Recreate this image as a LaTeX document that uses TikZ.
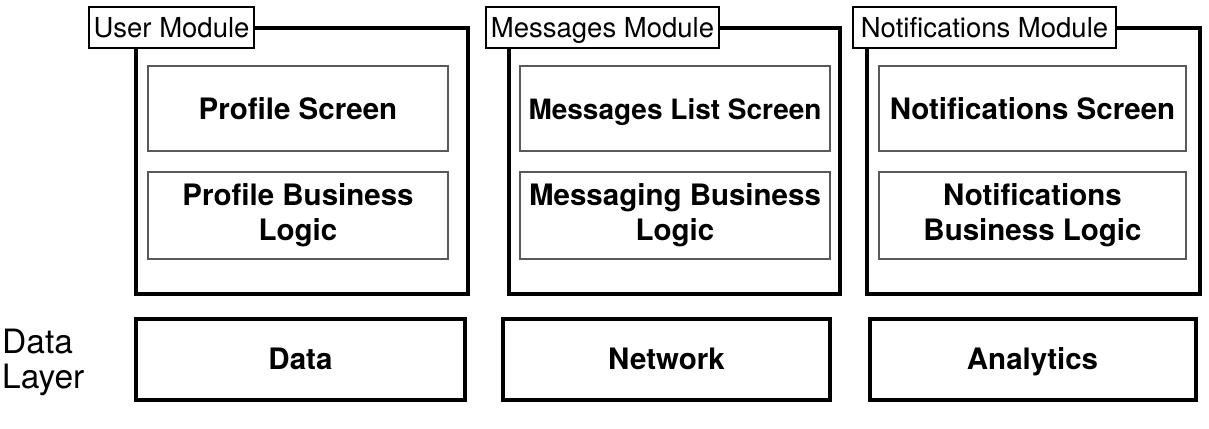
\documentclass[tikz,border=0pt]{standalone}
\usepackage{fontspec}
\setmainfont{TeX Gyre Heros}
\begin{document}
\begin{tikzpicture}[x=1pt,y=-1pt,
  outerbox/.style={draw=black,line width=4pt,rectangle,inner sep=0pt,minimum width=#1,minimum height=265.5pt},
  labelbox/.style={draw=black,line width=2pt,fill=white,rectangle,inner sep=0pt,minimum width=#1,minimum height=41pt,text height=19.5pt,text depth=0pt,font=\fontsize{27.5}{30}\selectfont},
  innerbox/.style={draw=black!65,line width=1.2pt,rectangle,inner sep=0pt,minimum width=#1,align=center,font=\bfseries\fontsize{29.5}{35}\selectfont},
  oneline/.style={text height=21pt,text depth=0pt},
  databox/.style={draw=black,line width=4pt,rectangle,inner sep=0pt,minimum width=#1,minimum height=81pt,text height=21pt,text depth=0pt,font=\bfseries\fontsize{29.5}{35}\selectfont}
]
\useasboundingbox (0,0) rectangle (1209,428);
% module 1
\node[outerbox=332pt] (m1) at (302,161.25) {};
\node[labelbox=165pt] (l1) at (171.5,27.5) {User Module};
\node[innerbox=300pt,minimum height=85pt,oneline] (ps) at (298,108.5) {Profile Screen};
\node[innerbox=300pt,minimum height=87pt] (pb) at (298,215.5) {Profile Business\\Logic};
% module 2
\node[outerbox=331pt] (m2) at (674.5,161.25) {};
\node[labelbox=233pt] (l2) at (602.5,27.5) {Messages Module};
\node[innerbox=310pt,minimum height=85pt,oneline,font=\bfseries\fontsize{28}{35}\selectfont] (ms) at (675,108.5) {Messages List Screen};
\node[innerbox=310pt,minimum height=87pt] (mb) at (675,215.5) {Messaging Business\\Logic};
% module 3
\node[outerbox=333.5pt] (m3) at (1033.25,161.25) {};
\node[labelbox=263pt] (l3) at (984.5,27.5) {Notifications Module};
\node[innerbox=307pt,minimum height=85pt,oneline] (ns) at (1032.5,108.5) {Notifications Screen};
\node[innerbox=307pt,minimum height=87pt] (nb) at (1032.5,215.5) {Notifications\\Business Logic};
% data layer
\node[anchor=base west,align=left,inner sep=0pt,font=\fontsize{33.5}{35}\selectfont] (dl) at (2,388) {Data\\Layer};
\node[databox=329pt] (d1) at (300.5,359) {Data};
\node[databox=327pt] (d2) at (666.5,359) {Network};
\node[databox=326pt] (d3) at (1032.5,359) {Analytics};
\end{tikzpicture}
\end{document}
